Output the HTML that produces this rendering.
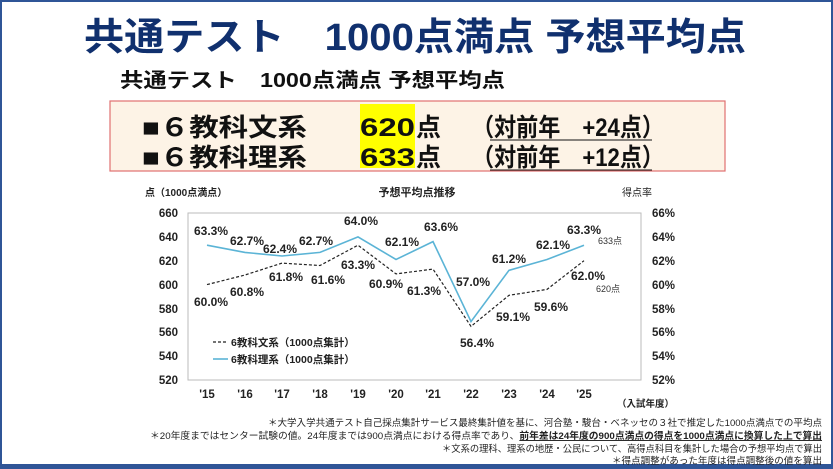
<!DOCTYPE html>
<html><head><meta charset="utf-8"><style>
body{margin:0;width:833px;height:469px;overflow:hidden;background:#fff}
svg{display:block}
text{font-family:"Liberation Sans","Noto Sans CJK JP",sans-serif}
</style></head><body>
<svg width="833" height="469" viewBox="0 0 833 469">
<rect x="1" y="1" width="831" height="467" fill="#fff" stroke="#2f5597" stroke-width="2"/>
<rect x="0" y="464" width="833" height="5" fill="#2f5597"/>
<text x="84" y="50" font-size="38" font-weight="bold" fill="#10306e" textLength="662" lengthAdjust="spacingAndGlyphs">共通テスト　1000点満点 予想平均点</text>
<text x="120" y="87" font-size="20" font-weight="bold" fill="#111" textLength="385" lengthAdjust="spacingAndGlyphs">共通テスト　1000点満点 予想平均点</text>
<rect x="110" y="101" width="615" height="70" fill="#fdf3e6" stroke="#e07070" stroke-width="1.2"/>
<rect x="360" y="104" width="55" height="64" fill="#ffff00"/>
<g font-size="25" font-weight="bold" fill="#111">
<text x="142" y="136" textLength="165" lengthAdjust="spacingAndGlyphs">■６教科文系</text>
<text x="142" y="166" textLength="165" lengthAdjust="spacingAndGlyphs">■６教科理系</text>
<text x="360" y="136" textLength="55" lengthAdjust="spacingAndGlyphs">620</text>
<text x="360" y="166" textLength="55" lengthAdjust="spacingAndGlyphs">633</text>
<text x="416" y="136">点</text>
<text x="416" y="166">点</text>
<text x="472" y="136" textLength="192" lengthAdjust="spacingAndGlyphs">（対前年　+24点）</text>
<text x="472" y="166" textLength="192" lengthAdjust="spacingAndGlyphs">（対前年　+12点）</text>
</g>
<line x1="490" y1="140" x2="652" y2="140" stroke="#111" stroke-width="1"/>
<line x1="490" y1="170" x2="652" y2="170" stroke="#111" stroke-width="1"/>
<g font-size="10" font-weight="bold" fill="#222">
<text x="145" y="196">点（1000点満点）</text>
<text x="417" y="196" text-anchor="middle" font-size="11">予想平均点推移</text>
<text x="622" y="196" font-weight="normal">得点率</text>
</g>
<rect x="188" y="213" width="453" height="167" fill="none" stroke="#bbb" stroke-width="1"/>
<g font-size="11.5" font-weight="bold" fill="#222" text-anchor="end">
<text x="178" y="217">660</text><text x="178" y="241">640</text><text x="178" y="265">620</text><text x="178" y="289">600</text><text x="178" y="313">580</text><text x="178" y="336">560</text><text x="178" y="360">540</text><text x="178" y="384">520</text>
</g>
<g font-size="11.5" font-weight="bold" fill="#222">
<text x="652" y="217">66%</text><text x="652" y="241">64%</text><text x="652" y="265">62%</text><text x="652" y="289">60%</text><text x="652" y="313">58%</text><text x="652" y="336">56%</text><text x="652" y="360">54%</text><text x="652" y="384">52%</text>
</g>
<g font-size="11.5" font-weight="bold" fill="#222" text-anchor="middle">
<text x="207" y="398">'15</text><text x="245" y="398">'16</text><text x="282" y="398">'17</text><text x="320" y="398">'18</text><text x="358" y="398">'19</text><text x="396" y="398">'20</text><text x="433" y="398">'21</text><text x="471" y="398">'22</text><text x="509" y="398">'23</text><text x="547" y="398">'24</text><text x="584" y="398">'25</text>
</g>
<text x="617" y="407" font-size="9.5" font-weight="bold" fill="#222">（入試年度）</text>
<polyline fill="none" stroke="#5bb4d6" stroke-width="1.6" points="207,245.2 245,252.4 282,256 320,252.4 358,236.9 396,259.5 433,241.6 471,321.6 509,270.3 547,259.5 584,245.2"/>
<polyline fill="none" stroke="#222" stroke-width="1.2" stroke-dasharray="3,2" points="207,284.6 245,275.0 282,263.1 320,265.5 358,245.2 396,273.9 433,269.1 471,326.4 509,295.3 547,289.4 584,260.7"/>
<g font-size="12" font-weight="bold" fill="#222" text-anchor="middle">
<text x="211" y="235">63.3%</text><text x="247" y="245">62.7%</text><text x="280" y="253">62.4%</text><text x="316" y="245">62.7%</text><text x="361" y="225">64.0%</text><text x="402" y="246">62.1%</text><text x="441" y="231">63.6%</text><text x="473" y="286">57.0%</text><text x="509" y="263">61.2%</text><text x="553" y="249">62.1%</text><text x="584" y="234">63.3%</text>
<text x="211" y="306">60.0%</text><text x="247" y="296">60.8%</text><text x="286" y="281">61.8%</text><text x="328" y="284">61.6%</text><text x="358" y="269">63.3%</text><text x="386" y="288">60.9%</text><text x="424" y="295">61.3%</text><text x="477" y="347">56.4%</text><text x="513" y="321">59.1%</text><text x="551" y="311">59.6%</text><text x="588" y="280">62.0%</text>
</g>
<text x="598" y="244" font-size="9" fill="#333">633点</text>
<text x="596" y="292" font-size="9" fill="#333">620点</text>
<line x1="213" y1="342" x2="228" y2="342" stroke="#222" stroke-width="1.2" stroke-dasharray="3,2"/>
<line x1="213" y1="359" x2="228" y2="359" stroke="#5bb4d6" stroke-width="1.6"/>
<g font-size="10.5" font-weight="bold" fill="#222">
<text x="231" y="346">6教科文系（1000点集計）</text>
<text x="231" y="363">6教科理系（1000点集計）</text>
</g>
<g font-size="9.5" fill="#222">
<text x="268" y="426" textLength="554" lengthAdjust="spacingAndGlyphs">＊大学入学共通テスト自己採点集計サービス最終集計値を基に、河合塾・駿台・ベネッセの３社で推定した1000点満点での平均点</text>
<text x="150" y="439" textLength="672" lengthAdjust="spacingAndGlyphs">＊20年度まではセンター試験の値。24年度までは900点満点における得点率であり、<tspan font-weight="bold" text-decoration="underline">前年差は24年度の900点満点の得点を1000点満点に換算した上で算出</tspan></text>
<text x="442" y="452" textLength="380" lengthAdjust="spacingAndGlyphs">＊文系の理科、理系の地歴・公民について、高得点科目を集計した場合の予想平均点で算出</text>
<text x="612" y="464" textLength="210" lengthAdjust="spacingAndGlyphs">＊得点調整があった年度は得点調整後の値を算出</text>
</g>
</svg>
</body></html>
